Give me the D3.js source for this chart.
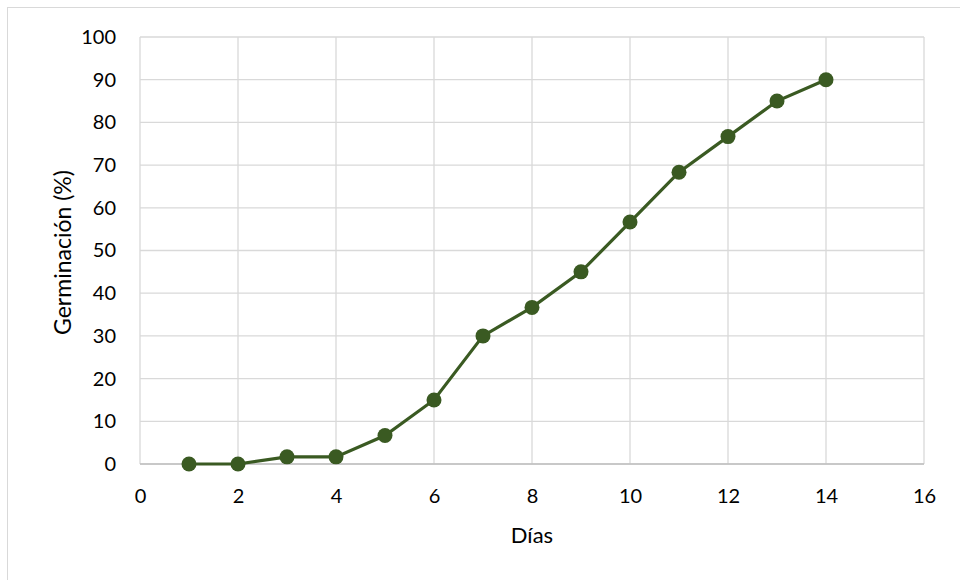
<!DOCTYPE html>
<html>
<head>
<meta charset="utf-8">
<script src="https://cdn.jsdelivr.net/npm/d3@7"></script>
<style>
body{margin:0;background:#fff;}
text{font-family:Lato,"Open Sans",sans-serif;fill:#000;}
</style>
</head>
<body>
<div id="grafico"></div>
<script>
var dias=[1,2,3,4,5,6,7,8,9,10,11,12,13,14]
var germinacion=[0,0,1.67,1.67,6.67,15,30,36.67,45,56.67,68.33,76.67,85,90]
var xTicks=[0,2,4,6,8,10,12,14,16]
var yTicks=[0,10,20,30,40,50,60,70,80,90,100]

var W=960,H=580
var margin={top:37,left:140,right:36,bottom:116}
var ancho=W-margin.left-margin.right
var alto=H-margin.top-margin.bottom

var svg=d3.select("#grafico").append("svg")
	.attr("width",W).attr("height",H)

// borde del area del grafico
svg.append("rect")
	.attr("x",7.5).attr("y",7.5)
	.attr("width",W).attr("height",H)
	.attr("fill","none").attr("stroke","#d9d9d9")

var g=svg.append("g").attr("transform","translate("+margin.left+","+margin.top+")")

var x=d3.scaleLinear().domain([0,16]).range([0,ancho])
var y=d3.scaleLinear().domain([0,100]).range([alto,0])

// rejilla
g.selectAll(".gy").data(yTicks).enter().append("line")
	.attr("x1",0).attr("x2",ancho)
	.attr("y1",d=>y(d)).attr("y2",d=>y(d))
	.attr("stroke","#d9d9d9").attr("stroke-width",1.3)
g.selectAll(".gx").data(xTicks).enter().append("line")
	.attr("x1",d=>x(d)).attr("x2",d=>x(d))
	.attr("y1",0).attr("y2",alto)
	.attr("stroke","#d9d9d9").attr("stroke-width",1.3)

// ejes
var ejeY=g.append("g").call(d3.axisLeft(y).tickValues(yTicks).tickSize(0).tickPadding(24))
ejeY.select(".domain").remove()
ejeY.selectAll("text").style("font-size","20px").style("font-family","Lato,sans-serif")

var ejeX=g.append("g").attr("transform","translate(0,"+alto+")")
	.call(d3.axisBottom(x).tickValues(xTicks).tickSize(0).tickPadding(25))
ejeX.select(".domain").remove()
ejeX.selectAll("text").style("font-size","20px").style("font-family","Lato,sans-serif")

g.append("line").attr("x1",0).attr("x2",ancho).attr("y1",alto).attr("y2",alto)
	.attr("stroke","#bfbfbf").attr("stroke-width",1.3)

// titulos
svg.append("text")
	.attr("x",margin.left+ancho/2).attr("y",543)
	.attr("text-anchor","middle").style("font-size","22px")
	.text("Días")
svg.append("text")
	.attr("transform","translate(71,"+(margin.top+alto/2+2)+") rotate(-90)")
	.attr("text-anchor","middle").style("font-size","23px")
	.text("Germinación (%)")

// serie
var datos=dias.map((d,i)=>({x:d,y:germinacion[i]}))
var linea=d3.line().x(d=>x(d.x)).y(d=>y(d.y))
g.append("path").datum(datos)
	.attr("d",linea)
	.attr("fill","none").attr("stroke","#3a5a22").attr("stroke-width",3.2)
g.selectAll(".pt").data(datos).enter().append("circle")
	.attr("cx",d=>x(d.x)).attr("cy",d=>y(d.y)).attr("r",7.5)
	.attr("fill","#3a5a22")
</script>
</body>
</html>
